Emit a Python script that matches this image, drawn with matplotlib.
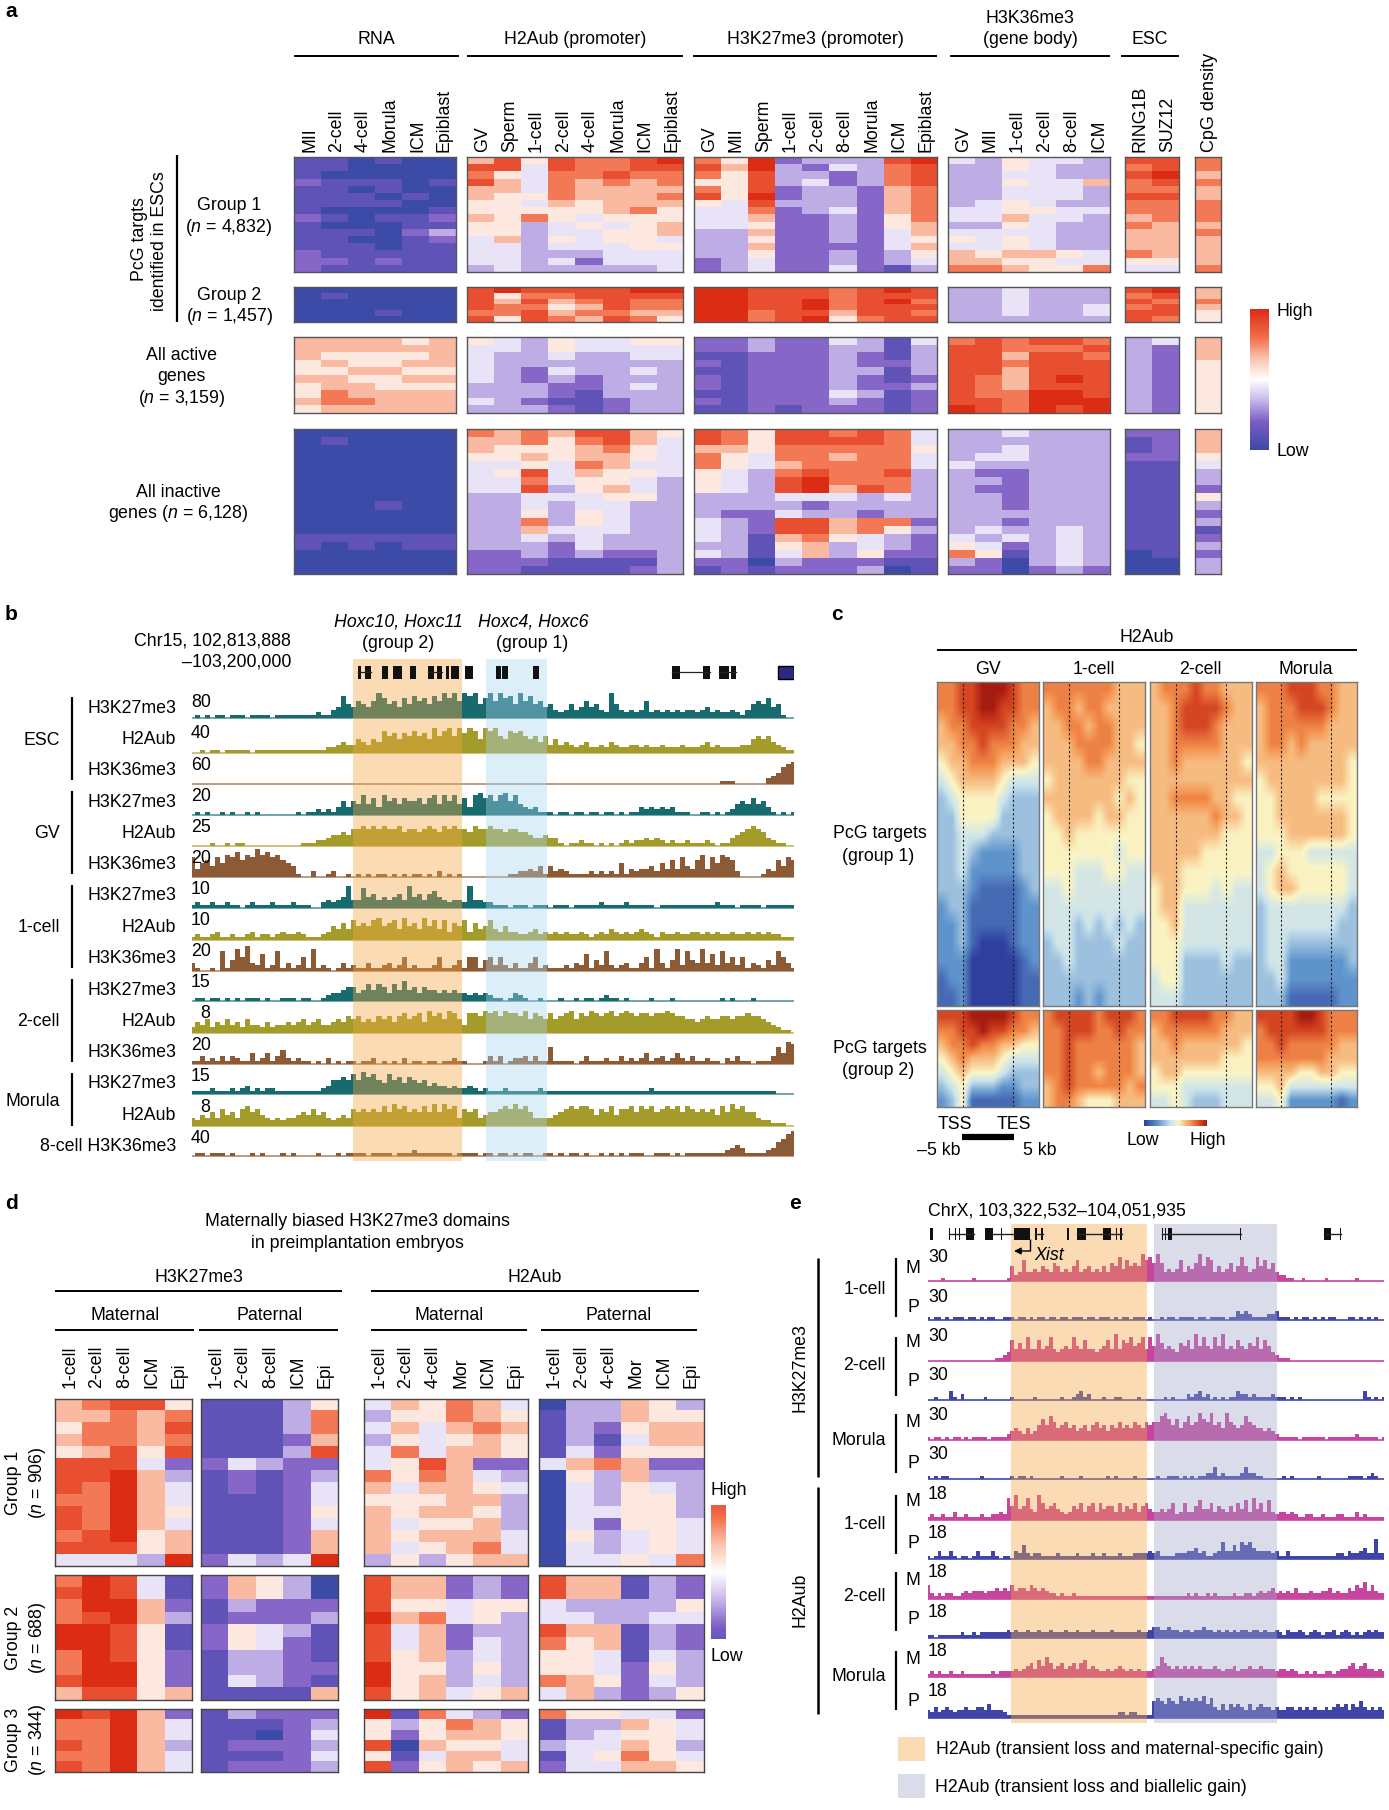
import matplotlib
matplotlib.use('Agg')
import matplotlib.pyplot as plt
import numpy as np
from matplotlib.colors import LinearSegmentedColormap

plt.rcParams['font.family'] = ['Liberation Sans', 'DejaVu Sans']
plt.rcParams['mathtext.fontset'] = 'custom'
plt.rcParams['mathtext.it'] = 'Liberation Sans:italic'
plt.rcParams['mathtext.rm'] = 'Liberation Sans'

W, H = 1389, 1810

# panel a, values on a 0-9 scale, columns RNA(6) H2Aub(8) H3K27me3(9) H3K36me3(6) ESC(2) CpG(1)
a_rna_cols = ['MII', '2-cell', '4-cell', 'Morula', 'ICM', 'Epiblast']
a_h2a_cols = ['GV', 'Sperm', '1-cell', '2-cell', '4-cell', 'Morula', 'ICM', 'Epiblast']
a_k27_cols = ['GV', 'MII', 'Sperm', '1-cell', '2-cell', '8-cell', 'Morula', 'ICM', 'Epiblast']
a_k36_cols = ['GV', 'MII', '1-cell', '2-cell', '8-cell', 'ICM']
a_esc_cols = ['RING1B', 'SUZ12']
a_cpg_cols = ['CpG density']

a_group1 = [
    [1,1,0,1,0,0, 6,8,5,8,7,7,8,9, 7,5,9,2,3,3,3,8,9, 4,3,5,4,4,3, 8,8, 7],
    [1,1,0,0,0,0, 8,8,4,8,7,7,8,8, 8,6,9,3,2,4,3,7,8, 3,3,5,4,3,3, 7,8, 7],
    [1,0,0,0,0,0, 7,5,4,7,7,8,7,7, 7,5,8,3,3,2,3,7,8, 3,3,4,4,3,3, 8,9, 6],
    [2,1,1,1,0,1, 8,6,4,7,6,7,6,7, 5,5,8,3,4,2,3,7,8, 3,3,5,4,4,6, 7,8, 7],
    [1,1,0,1,0,0, 6,6,4,7,6,6,6,6, 7,5,8,2,3,3,2,6,7, 3,3,4,4,4,3, 7,7, 6],
    [1,1,1,0,1,0, 6,5,5,7,6,6,6,7, 8,5,9,2,3,3,2,6,7, 3,3,4,4,4,3, 8,8, 6],
    [1,1,1,1,0,0, 5,5,4,6,5,6,6,6, 5,4,8,3,3,3,2,6,7, 3,4,5,4,3,3, 7,7, 7],
    [1,0,0,0,0,1, 5,5,5,5,5,6,7,5, 4,4,7,2,3,4,2,6,7, 4,4,5,5,4,4, 7,7, 7],
    [2,1,0,1,1,2, 6,5,7,5,4,5,5,5, 4,4,6,2,2,3,2,5,7, 4,4,6,4,4,3, 6,7, 7],
    [1,0,0,0,1,1, 5,5,3,4,5,4,5,6, 4,4,5,2,2,3,2,5,6, 3,3,5,4,3,3, 7,6, 6],
    [1,1,1,0,2,3, 5,5,3,4,4,5,5,6, 3,3,6,2,2,3,2,4,6, 4,4,4,4,3,3, 6,6, 7],
    [1,1,0,0,1,2, 4,6,3,5,4,5,5,4, 3,3,5,2,2,3,2,4,5, 5,4,5,4,3,3, 6,6, 6],
    [1,1,1,0,1,1, 4,4,3,4,4,4,5,5, 3,3,6,2,2,2,2,4,6, 4,4,5,4,3,3, 6,6, 6],
    [2,1,1,1,1,1, 4,4,3,3,3,4,4,4, 3,3,5,2,2,3,2,3,5, 6,5,6,6,5,4, 7,6, 6],
    [2,2,1,2,1,1, 4,4,3,4,2,4,4,4, 2,3,4,2,2,3,2,3,4, 6,6,5,5,4,4, 5,5, 6],
    [2,1,1,1,1,1, 3,4,3,3,3,3,3,4, 2,3,4,2,2,4,2,1,3, 7,7,6,5,5,7, 4,4, 7],
]
a_group2 = [
    [0,0,0,0,0,0, 8,9,8,8,8,8,9,9, 9,9,8,8,8,7,8,9,8, 3,3,4,3,3,3, 8,9, 6],
    [0,1,0,0,0,0, 8,5,7,7,8,8,8,8, 9,9,8,8,8,7,8,8,8, 3,3,4,3,3,3, 7,8, 6],
    [0,0,0,0,0,0, 8,6,8,6,7,8,7,7, 9,9,8,8,9,7,8,9,7, 3,3,4,3,3,3, 8,7, 7],
    [0,0,0,0,0,0, 8,7,7,5,6,8,7,7, 9,9,8,8,9,7,8,8,8, 3,3,4,3,3,4, 7,8, 6],
    [0,0,0,1,0,0, 7,7,8,6,7,7,6,6, 9,9,7,8,8,6,8,8,7, 3,3,4,3,3,4, 8,8, 5],
    [0,0,0,0,0,0, 8,5,8,7,6,8,7,5, 9,9,7,8,9,5,7,8,8, 3,3,3,3,3,3, 8,7, 5],
]
a_active = [
    [6,6,6,6,5,6, 5,4,3,5,4,4,5,5, 2,2,3,2,2,4,3,1,4, 7,8,7,8,8,7, 3,4, 6],
    [6,6,6,6,6,6, 4,4,3,5,4,4,4,4, 2,2,3,2,2,3,3,1,3, 8,8,7,7,7,8, 3,2, 6],
    [6,5,5,5,5,6, 4,3,3,4,3,3,4,4, 1,1,2,2,2,3,2,1,3, 8,8,6,8,8,7, 3,2, 6],
    [5,6,5,5,6,6, 4,3,3,3,3,3,3,3, 2,1,2,2,2,3,2,2,3, 8,8,7,8,8,8, 3,2, 5],
    [5,5,6,6,5,5, 4,3,2,4,3,3,4,3, 1,1,2,2,2,3,3,1,3, 8,8,6,8,8,8, 3,2, 5],
    [6,6,5,5,6,6, 4,3,2,3,2,3,3,3, 2,1,2,2,2,3,2,1,2, 8,7,6,8,9,8, 3,2, 5],
    [5,6,6,5,5,5, 3,3,3,2,2,3,4,3, 2,1,2,2,2,3,2,2,3, 8,7,6,8,8,8, 3,2, 5],
    [5,7,6,6,6,6, 3,3,3,2,1,3,3,3, 1,1,2,2,2,4,3,1,2, 8,7,7,9,9,8, 3,2, 5],
    [6,7,7,6,6,6, 4,3,2,1,1,2,3,3, 2,1,2,2,2,3,2,1,2, 8,8,7,9,9,9, 3,2, 5],
    [5,6,6,6,6,6, 3,3,3,2,1,2,3,3, 1,1,2,1,2,2,2,1,2, 9,8,7,9,8,9, 3,2, 5],
]
a_inactive = [
    [0,0,0,0,0,0, 7,6,7,6,8,8,6,5, 8,7,5,8,8,7,8,7,4, 3,3,4,3,3,3, 2,2, 6],
    [0,1,0,0,0,0, 6,6,7,5,7,8,6,4, 8,7,5,8,8,8,8,7,4, 3,3,3,3,3,3, 1,2, 6],
    [0,0,0,0,0,0, 6,5,5,5,6,7,5,4, 6,6,5,7,7,7,7,7,5, 3,3,4,3,3,3, 1,2, 6],
    [0,0,0,0,0,0, 5,5,6,5,6,6,5,4, 7,5,4,7,7,6,7,7,4, 3,4,4,3,3,3, 2,2, 5],
    [0,0,0,0,0,0, 4,4,5,4,7,6,4,4, 7,5,4,6,7,7,7,7,4, 4,3,3,3,3,3, 1,1, 4],
    [0,0,0,0,0,0, 4,5,8,4,6,5,5,4, 5,4,3,7,8,7,7,8,3, 3,2,2,3,3,3, 1,1, 3],
    [0,0,0,0,0,0, 4,4,7,4,5,5,4,3, 5,4,3,8,9,7,7,7,3, 3,3,2,3,3,3, 1,1, 3],
    [0,0,0,0,0,0, 4,4,8,3,5,6,4,3, 5,4,3,8,9,6,8,7,3, 3,2,2,3,3,3, 1,1, 2],
    [0,0,0,0,0,0, 3,3,4,4,4,5,5,3, 3,3,3,4,4,4,3,4,3, 3,3,2,3,3,3, 1,1, 5],
    [0,0,0,1,0,0, 3,3,4,3,4,4,3,3, 3,3,3,3,2,3,3,3,3, 3,3,2,3,3,3, 1,1, 3],
    [0,0,0,0,0,0, 3,3,5,3,5,4,3,3, 3,2,2,4,3,3,2,3,3, 3,3,3,3,3,3, 1,1, 2],
    [0,0,0,0,0,0, 3,3,7,3,5,4,3,3, 4,3,2,8,8,6,7,7,2, 3,3,2,3,3,3, 1,1, 3],
    [0,0,0,0,0,0, 3,3,6,4,4,4,3,3, 4,3,2,8,8,6,7,5,3, 3,4,3,3,4,3, 1,1, 1],
    [1,1,1,1,1,1, 3,3,4,3,4,3,3,3, 4,3,1,6,7,5,4,3,2, 4,3,4,3,4,3, 1,1, 2],
    [1,0,1,0,1,1, 3,3,3,2,4,3,3,3, 3,3,1,5,6,3,4,3,2, 5,4,2,3,4,3, 1,1, 3],
    [0,0,0,0,0,0, 2,2,3,2,3,2,2,3, 4,3,1,4,6,3,5,2,2, 7,5,1,3,4,3, 0,1, 2],
    [0,0,0,0,0,0, 2,2,2,1,1,1,1,3, 2,2,0,3,2,2,2,1,1, 3,2,0,3,4,3, 0,0, 3],
    [0,0,0,0,0,0, 2,2,1,1,1,1,2,3, 1,2,1,2,2,2,3,0,1, 2,2,0,2,3,2, 0,0, 3],
]

# panel b, track heights on a 0-10 scale along the locus
b_locus_kb = 386
b_scales = ['80', '40', '60', '20', '25', '20', '10', '10', '20', '15', '8', '20', '15', '8', '40']
b_marks = ['H3K27me3', 'H2Aub', 'H3K36me3', 'H3K27me3', 'H2Aub', 'H3K36me3', 'H3K27me3', 'H2Aub',
           'H3K36me3', 'H3K27me3', 'H2Aub', 'H3K36me3', 'H3K27me3', 'H2Aub', '8-cell H3K36me3']
b_esc_k27 = [0,1,0,1,0,1,1,0,1,1, 1,0,1,1,1,1,0,1,1,1, 1,1,1,1,1,2,1,1,3,4, 8,5,4,6,5,4,6,9,7,5, 6,4,7,5,8,6,7,5,8,6, 9,7,9,6,9,8,9,5,7,9, 6,9,7,8,5,9,6,8,5,6, 4,5,3,2,3,5,3,4,6,4, 5,3,2,9,5,3,2,3,2,3, 6,2,3,2,3,2,3,2,3,3, 2,3,4,2,3,2,2,3,2,1, 3,5,6,5,7,4,5,1,0,0]
b_esc_h2a = [0,0,1,0,1,1,0,1,1,1, 1,1,0,1,1,1,1,1,1,1, 1,1,1,1,1,1,1,2,2,3, 4,3,3,5,4,3,5,4,8,6, 7,5,7,6,8,6,7,5,9,6, 8,9,6,9,7,9,8,5,9,8, 9,6,5,8,7,8,6,5,6,4, 6,3,5,3,4,3,2,3,4,2, 2,3,2,4,3,2,2,3,3,2, 3,2,2,3,2,2,2,3,2,2, 2,3,4,2,3,2,2,2,2,3, 3,5,6,5,6,4,3,2,1,1]
b_esc_k36 = [0,0,0,0,0,0,0,0,0,0, 0,0,0,0,0,0,0,0,0,0, 0,0,0,0,0,0,0,0,0,0, 0,0,0,0,0,0,0,0,0,0, 0,0,0,0,0,0,0,0,0,0, 0,0,0,0,0,0,0,0,0,0, 0,0,0,0,0,0,0,0,0,0, 0,0,0,0,0,0,0,0,0,0, 0,0,0,0,0,0,0,0,0,0, 0,0,0,0,0,0,0,0,0,0, 0,0,0,0,0,1,1,1,0,0, 0,0,0,0,2,3,4,6,7,8]
b_gv_k27 = [0,1,0,1,0,0,1,0,1,0, 0,1,0,1,0,0,0,0,0,0, 0,1,0,1,1,2,1,2,1,3, 5,3,5,4,7,4,6,3,7,5, 6,4,6,5,5,6,4,6,7,4, 7,5,7,4,6,3,7,8,6,7, 5,7,8,5,7,4,3,2,3,1, 1,1,0,1,1,0,1,1,0,1, 1,0,1,1,0,1,0,1,1,3, 2,3,2,3,2,3,1,1,1,0, 0,1,1,0,1,0,1,2,4,5, 4,6,4,5,3,1,0,1,0,1]
b_gv_h2a = [0,0,0,0,1,0,0,1,0,1, 1,0,0,0,0,0,0,0,0,0, 0,0,1,1,1,2,2,3,4,4, 5,4,6,6,7,6,7,6,7,6, 6,7,5,6,6,5,6,7,6,5, 7,6,7,6,6,5,7,6,6,7, 6,6,5,6,6,5,5,4,3,3, 4,3,3,1,0,1,1,2,1,1, 0,1,0,1,0,1,2,1,2,2, 3,2,3,2,1,2,1,1,2,1, 1,1,2,1,0,1,1,3,4,5, 6,7,6,5,3,2,1,1,0,0]
b_gv_k36 = [7,3,5,6,4,7,5,8,7,9, 6,8,7,10,8,9,7,8,6,5, 4,1,0,0,2,0,0,1,2,0, 0,1,0,1,0,1,0,1,1,0, 1,0,1,0,1,1,0,1,0,2, 0,1,0,1,0,0,0,0,0,0, 0,0,0,1,1,2,2,3,2,4, 1,4,2,3,2,1,1,1,1,2, 1,2,1,2,1,5,1,3,2,3, 3,4,2,5,3,6,3,7,4,3, 6,8,3,7,5,8,7,6,2,0, 0,0,0,1,3,2,6,4,7,6]
b_1c_k27 = [1,2,1,1,2,1,1,2,1,1, 0,1,2,1,1,1,2,1,1,1, 2,1,1,1,0,0,2,3,2,3, 4,8,3,3,7,4,5,3,4,3, 4,5,3,8,4,5,3,5,6,4, 3,2,3,3,2,8,3,3,2,2, 1,1,1,0,1,1,1,0,1,1, 1,0,1,1,1,0,1,1,1,1, 1,2,1,1,1,1,2,1,1,1, 1,1,0,1,1,1,1,1,1,1, 1,1,1,1,2,1,1,1,0,1, 1,1,1,0,1,1,1,1,1,1]
b_1c_h2a = [1,2,1,1,2,3,1,1,2,1, 1,2,3,1,2,2,1,2,3,2, 2,3,2,1,1,1,2,3,5,4, 6,4,7,5,6,5,7,8,5,6, 7,4,8,5,6,4,8,5,7,4, 7,3,6,5,7,3,6,4,5,7, 4,3,5,3,3,2,2,3,4,2, 3,2,3,2,3,2,2,3,2,1, 2,3,2,4,3,2,3,2,3,4, 3,2,1,3,2,2,3,2,2,3, 3,2,3,2,3,2,2,3,2,2, 3,2,3,2,3,2,2,1,1,1]
b_1c_k36 = [3,1,0,0,1,0,7,1,4,8, 5,9,3,2,6,1,2,7,1,3, 1,2,5,1,8,1,2,1,0,1, 3,1,2,1,1,3,1,1,2,3, 1,2,5,1,2,1,1,1,2,5, 1,1,2,4,1,5,5,1,4,5, 2,5,2,1,3,1,1,3,5,1, 2,1,1,1,2,1,3,2,6,1, 4,2,7,2,1,2,3,1,1,3, 5,1,8,3,1,4,8,2,7,4, 3,8,3,6,2,7,3,5,2,5, 1,3,2,1,4,2,7,5,3,1]
b_2c_k27 = [0,1,1,0,1,1,0,1,0,1, 0,1,1,1,0,1,0,0,1,1, 1,0,1,1,0,0,1,2,3,3, 4,5,5,3,4,6,4,6,5,3, 6,4,7,4,5,3,5,4,4,3, 4,3,4,3,3,2,3,2,3,2, 1,1,0,1,3,2,1,0,0,1, 0,0,0,1,0,0,1,0,1,1, 0,1,2,1,1,0,1,0,0,0, 0,1,0,0,0,1,0,0,0,0, 0,0,0,0,0,1,0,1,0,0, 0,1,0,0,0,0,0,0,0,0]
b_2c_h2a = [2,4,3,5,2,4,3,5,3,4, 2,5,3,3,2,4,2,3,3,4, 3,4,5,3,4,5,3,3,4,5, 4,6,5,6,4,5,4,6,5,6, 4,6,7,5,6,7,4,8,6,7, 5,8,7,5,3,7,7,6,8,7, 8,6,8,7,7,6,8,5,7,6, 5,7,5,6,7,8,5,7,6,8, 7,6,7,8,6,7,8,7,6,7, 7,6,7,7,8,7,6,6,5,5, 4,5,6,5,5,6,6,5,6,6, 7,6,6,5,4,3,2,1,1,0]
b_2c_k36 = [1,1,3,1,2,1,3,1,3,2, 1,1,4,1,2,4,1,3,5,2, 1,2,1,1,0,1,0,2,0,1, 0,1,1,0,1,1,2,0,1,0, 1,0,2,0,1,1,0,1,1,0, 1,1,2,1,1,0,0,0,1,3, 1,3,0,1,2,2,3,1,3,1, 1,6,1,1,1,1,0,1,3,1, 1,1,2,1,1,3,1,2,1,2, 4,1,2,3,1,2,4,2,1,3, 1,1,2,1,1,0,2,1,3,1, 1,0,1,1,1,3,6,4,8,7]
b_mo_k27 = [1,1,1,1,2,1,1,1,2,1, 2,3,1,2,1,2,2,1,1,1, 1,1,1,1,1,1,2,3,5,5, 6,5,7,5,8,6,7,5,4,7, 5,6,4,6,5,4,5,3,4,3, 3,2,3,2,2,3,2,1,2,1, 1,1,2,1,1,1,1,1,1,2, 1,1,1,1,1,1,1,1,1,1, 1,1,1,1,1,1,1,1,1,1, 1,2,1,1,1,1,1,1,1,1, 1,1,1,1,1,1,1,1,1,1, 1,1,1,1,1,1,0,0,0,0]
b_mo_h2a = [3,2,4,3,5,3,6,4,5,3, 6,7,5,6,4,3,2,3,2,3, 3,4,5,4,6,4,5,3,2,3, 4,3,6,5,6,5,6,5,7,5, 8,6,7,5,6,5,7,5,8,5, 8,6,7,3,6,5,6,3,4,5, 5,6,7,6,8,6,7,5,3,3, 3,3,4,5,6,7,6,7,7,6, 4,6,5,7,4,6,6,7,5,7, 6,7,5,6,7,6,7,5,7,6, 5,6,5,6,4,7,5,8,6,7, 5,5,3,2,2,1,1,1,0,0]
b_8c_k36 = [0,1,1,0,1,1,1,0,1,0, 0,0,1,0,1,0,0,0,1,0, 1,0,0,0,0,1,0,0,0,1, 0,1,1,1,1,0,1,1,1,1, 0,1,1,1,2,1,1,1,1,1, 1,1,0,1,1,1,1,0,1,1, 0,1,1,0,1,0,1,1,0,0, 1,1,0,1,0,1,1,0,1,0, 0,1,0,1,0,1,0,1,1,1, 0,0,1,1,1,0,1,0,1,1, 1,1,1,1,1,1,2,3,4,3, 1,1,1,1,2,3,5,6,8,9]
b_tracks = [b_esc_k27, b_esc_h2a, b_esc_k36, b_gv_k27, b_gv_h2a, b_gv_k36, b_1c_k27, b_1c_h2a, b_1c_k36,
            b_2c_k27, b_2c_h2a, b_2c_k36, b_mo_k27, b_mo_h2a, b_8c_k36]
b_exons = [(106.7,108.4), (111,115), (121.8,125.5), (129,134.6), (140,143.7), (151.4,155.4), (157,160.4),
           (163,164.8), (166,171.5), (175.5,180.6), (195,198.4), (199,203), (219,223), (307.8,313),
           (328,332.6), (338,344.4), (346,349.4)]
b_introns = [(106.7,115), (151.4,160.4), (307.8,332.6), (338,349.4)]
b_orange_kb = (103, 173.5)
b_blue_kb = (188.6, 227.6)

# panel c, 10 bins per row, 0-9 scale
c_gv_top = [
    [7,7,8,8,9,9,9,8,7,7], [7,7,8,8,9,9,8,8,7,7], [6,7,7,8,8,8,8,7,7,6], [6,6,7,7,8,7,7,7,6,6],
    [5,6,6,7,7,7,6,6,6,5], [4,5,6,6,6,6,5,4,4,4], [3,4,5,5,5,5,4,3,3,3], [3,3,5,5,5,5,3,3,3,3],
    [3,3,4,4,4,3,3,3,3,3], [3,3,4,3,2,2,2,2,3,3], [3,3,4,2,2,2,2,2,3,3], [3,3,3,2,1,1,1,1,2,3],
    [2,3,3,1,1,1,1,1,2,2], [2,2,3,1,1,1,1,1,2,2], [2,2,3,1,0,0,0,1,2,2], [2,2,2,0,0,0,0,0,1,2],
    [1,2,2,0,0,0,0,0,1,1], [1,1,2,0,0,0,0,0,1,1],
]
c_1c_top = [
    [7,7,7,7,7,7,7,6,6,6], [6,7,7,6,7,7,6,6,6,6], [6,6,7,7,6,7,7,6,6,6], [6,6,6,7,7,7,7,6,6,5],
    [6,6,6,6,7,7,6,6,6,6], [5,6,6,6,6,6,6,6,5,5], [6,6,6,6,6,6,6,5,6,5], [5,6,6,6,6,5,6,6,5,5],
    [5,5,6,5,5,5,5,5,5,5], [5,5,5,5,5,5,5,4,5,5], [5,5,5,4,4,4,5,5,4,4], [4,4,5,4,4,4,4,4,4,4],
    [4,4,4,4,4,4,4,4,4,4], [4,4,4,3,4,3,4,3,4,3], [3,4,4,3,3,3,3,4,3,3], [3,3,4,3,3,3,3,3,3,3],
    [3,3,3,3,3,3,3,3,3,3], [3,3,3,2,3,2,3,3,3,3],
]
c_2c_top = [
    [6,7,7,7,8,7,7,6,6,6], [6,6,7,8,8,8,8,7,6,6], [6,6,7,8,8,8,7,6,6,6], [6,6,7,7,7,7,7,6,6,6],
    [6,6,7,6,6,6,6,6,6,5], [6,6,6,6,6,6,6,6,6,6], [6,6,7,7,7,7,6,6,5,5], [6,6,6,6,6,6,7,6,6,5],
    [6,6,6,6,6,6,6,5,5,5], [6,6,6,6,6,5,5,5,5,5], [6,6,6,5,5,5,5,5,5,5], [5,6,6,5,5,5,4,5,4,4],
    [5,6,6,4,4,4,4,4,4,4], [5,5,6,4,4,4,4,4,4,4], [5,5,5,4,4,4,4,4,4,4], [5,5,5,3,3,3,3,4,3,3],
    [4,5,5,3,3,3,3,3,3,3], [4,4,4,3,3,3,3,3,3,3],
]
c_mo_top = [
    [7,7,7,8,8,8,7,7,6,6], [6,7,7,7,8,8,8,7,6,6], [6,7,7,7,7,7,7,6,6,6], [6,7,7,6,7,6,6,6,6,6],
    [6,6,6,6,6,6,6,6,6,5], [5,6,6,6,6,6,6,6,6,5], [5,5,6,6,6,6,5,5,5,5], [5,5,6,6,6,6,6,6,6,5],
    [5,5,5,6,6,6,6,6,6,5], [4,4,5,5,5,4,4,4,4,4], [4,5,6,5,5,5,5,5,5,4], [4,5,6,6,5,5,5,5,5,4],
    [3,4,4,4,4,4,4,4,4,3], [3,4,4,4,4,4,4,4,3,3], [3,4,4,3,3,3,3,3,3,3], [3,4,4,2,2,2,2,2,2,3],
    [3,3,4,2,2,2,2,2,2,2], [3,3,3,1,1,1,1,1,2,2],
]
c_gv_bottom = [
    [8,8,8,9,9,9,9,8,7,7], [7,7,8,8,9,8,8,7,7,6], [6,7,7,8,7,7,6,6,5,5], [5,6,7,6,6,6,5,4,4,4],
    [4,5,6,5,5,5,4,3,3,3], [3,4,5,3,3,3,2,2,3,3], [2,3,5,1,1,1,1,1,2,2],
]
c_1c_bottom = [
    [7,8,8,8,8,7,8,8,8,7], [7,7,8,8,8,7,7,8,7,7], [7,7,8,7,7,7,7,7,7,6], [7,7,8,7,7,7,7,7,7,6],
    [7,7,8,7,7,6,7,7,7,6], [6,7,8,7,7,7,7,7,6,7], [6,7,7,6,5,5,5,6,6,6],
]
c_2c_bottom = [
    [7,7,8,8,8,8,7,7,6,6], [6,7,7,7,7,7,7,6,6,6], [6,6,7,6,6,6,6,6,6,5], [6,6,6,6,6,6,6,5,5,5],
    [5,6,6,5,5,5,5,5,5,5], [5,5,5,4,4,4,4,4,4,4], [4,4,5,4,3,3,3,4,4,4],
]
c_mo_bottom = [
    [8,8,8,8,9,9,8,7,7,7], [7,8,8,8,8,8,8,7,7,7], [7,7,8,7,7,7,7,7,6,6], [7,7,7,7,7,7,7,6,6,6],
    [6,6,6,6,5,5,6,6,5,5], [5,5,6,4,4,4,4,4,4,4], [4,4,5,2,2,2,2,2,1,2],
]
c_stages = ['GV', '1-cell', '2-cell', 'Morula']
c_tss_tes = [0.25, 0.745]

# panel d, columns K27 maternal(5) K27 paternal(5) H2Aub maternal(6) H2Aub paternal(6)
d_k27_cols = ['1-cell', '2-cell', '8-cell', 'ICM', 'Epi']
d_h2a_cols = ['1-cell', '2-cell', '4-cell', 'Mor', 'ICM', 'Epi']
d_group1 = [
    [6,7,8,8,5, 1,1,1,3,5, 4,6,5,7,6,4, 0,3,3,6,5,3],
    [6,6,7,6,7, 1,1,1,3,7, 3,5,5,7,6,5, 1,3,3,6,5,5],
    [5,7,7,6,8, 1,1,1,3,7, 4,6,4,6,7,6, 1,3,2,5,6,6],
    [6,7,7,6,7, 1,1,1,2,6, 3,5,4,5,6,5, 1,3,1,4,6,6],
    [5,6,8,5,8, 1,1,1,3,8, 4,7,4,6,6,5, 1,4,2,5,5,5],
    [8,8,8,4,2, 2,4,3,2,2, 4,5,8,6,2,2, 4,6,7,6,2,2],
    [8,8,9,6,3, 1,2,1,2,3, 7,5,7,6,4,3, 0,5,3,6,3,3],
    [8,7,9,6,4, 1,2,1,2,4, 6,4,6,6,5,4, 0,4,3,5,4,3],
    [7,7,9,6,4, 1,1,1,2,4, 5,5,5,6,6,3, 0,4,3,5,5,3],
    [8,7,9,6,5, 1,1,1,2,5, 6,5,6,6,5,3, 0,4,4,5,5,3],
    [8,7,9,6,4, 1,1,1,2,4, 6,4,5,5,6,3, 0,4,2,5,5,4],
    [7,8,9,5,6, 1,1,1,2,6, 6,5,6,6,6,4, 0,5,3,4,5,4],
    [8,8,8,5,6, 1,1,1,2,6, 6,4,5,6,7,4, 0,4,3,4,5,4],
    [4,4,4,3,9, 2,4,3,4,9, 3,5,3,5,6,6, 0,4,4,5,4,7],
]
d_group2 = [
    [7,9,8,4,1, 2,6,5,3,0, 8,6,6,2,3,2, 8,6,6,1,3,2],
    [8,9,8,4,1, 2,6,5,3,0, 8,6,6,2,3,2, 8,6,6,1,3,2],
    [7,9,9,6,2, 1,3,2,2,2, 8,5,5,4,5,5, 4,3,3,3,3,5],
    [7,8,9,6,3, 1,2,2,2,3, 9,6,7,4,5,3, 4,4,3,3,4,4],
    [9,9,8,5,1, 2,5,4,3,1, 8,4,6,2,3,3, 8,6,6,1,3,2],
    [9,9,8,5,1, 2,5,4,2,1, 8,4,6,2,4,3, 7,5,6,1,3,2],
    [7,9,8,5,2, 1,3,3,2,1, 8,5,6,3,4,3, 5,5,4,1,4,3],
    [7,9,9,5,2, 1,3,3,2,2, 9,5,5,3,5,3, 5,5,4,2,5,3],
    [8,9,9,5,2, 1,4,3,2,1, 9,5,6,3,4,3, 7,6,5,2,4,3],
    [6,8,8,5,6, 1,1,1,1,6, 8,5,6,4,5,6, 4,6,3,2,3,5],
]
d_group3 = [
    [9,8,9,6,2, 1,3,2,2,2, 9,1,7,4,3,2, 7,5,5,4,4,2],
    [7,7,9,6,4, 1,1,1,2,3, 5,3,5,7,6,5, 1,3,3,6,5,4],
    [7,7,9,6,4, 1,1,0,2,4, 5,2,5,6,6,5, 1,3,4,5,5,4],
    [8,7,9,6,3, 1,2,2,2,3, 8,0,6,5,5,4, 3,4,4,6,5,3],
    [7,7,9,6,4, 1,1,1,2,4, 5,1,4,6,6,4, 1,4,5,7,5,4],
    [8,7,9,6,4, 1,2,2,2,3, 8,2,5,6,5,6, 2,4,4,6,6,5],
]

# panel e
e_locus_kb = 729.4
e_scales = ['30'] * 6 + ['18'] * 6
e_k27_1c_m = [0,0,0,0,1,0,0,0,0,0, 0,0,1,0,0,0,0,0,0,0, 0,1,5,2,3,7,3,3,4,3, 5,4,3,6,5,3,4,3,5,7, 3,4,5,3,4,3,5,3,6,5, 8,4,7,5,6,5,9,7,8,6, 9,6,3,4,3,4,7,3,5,4, 6,9,5,8,7,3,5,3,4,6, 3,5,8,5,3,4,8,5,7,4, 6,3,2,2,1,1,0,0,1,0, 0,0,0,0,1,0,0,0,0,0, 0,0,1,0,0,0,0,0,0,0]
e_k27_1c_p = [1,0,1,1,0,1,0,1,1,1, 0,1,1,0,1,0,1,1,0,0, 1,1,1,0,1,1,0,1,0,1, 1,0,1,1,0,1,1,0,1,1, 1,0,1,1,0,1,1,1,0,1, 0,1,1,0,1,1,1,0,1,0, 0,1,0,1,1,0,1,1,1,1, 0,1,1,0,1,1,1,1,0,1, 1,3,2,3,2,1,1,1,1,2, 2,3,1,1,1,0,1,0,1,1, 0,1,0,1,0,1,1,0,0,0, 1,1,0,1,0,1,0,1,0,0]
e_k27_2c_m = [0,0,0,0,0,0,0,0,0,0, 0,0,0,0,0,0,0,0,1,1, 2,3,7,4,6,4,8,4,4,7, 4,5,8,4,3,4,5,4,8,5, 4,7,4,4,3,4,5,7,4,9, 4,7,6,8,5,6,8,4,8,5, 9,6,4,5,4,3,6,5,7,4, 9,5,8,5,4,8,5,9,4,5, 4,7,5,4,6,5,8,4,7,5, 3,2,1,1,1,0,0,0,0,0, 0,0,0,0,0,0,0,0,0,0, 0,0,0,0,0,0,0,0,0,0]
e_k27_2c_p = [0,0,1,0,0,0,3,1,0,2, 0,0,0,0,0,1,0,0,0,0, 0,0,1,0,0,0,0,0,1,0, 0,0,0,0,0,1,0,0,1,2, 3,1,2,0,0,0,1,0,0,1, 1,0,0,0,0,1,0,0,0,0, 0,0,1,0,1,0,0,0,2,1, 2,3,1,2,0,1,0,1,0,1, 1,3,2,2,1,2,1,1,1,1, 2,1,1,1,0,1,0,1,0,0, 0,0,0,0,0,0,0,0,0,0, 0,0,0,0,3,1,0,1,0,1]
e_k27_mo_m = [1,0,1,1,0,1,0,1,1,0, 1,0,1,1,1,1,0,1,1,1, 1,2,3,4,3,2,4,2,3,5, 7,5,8,6,4,5,6,4,5,3, 4,5,3,5,6,4,5,3,5,4, 6,4,5,4,6,5,4,6,5,6, 6,8,9,7,5,7,4,6,8,5, 6,9,7,6,9,5,6,4,9,6, 5,4,5,8,6,5,4,4,3,4, 3,2,1,1,1,1,1,0,1,1, 1,1,1,1,0,1,1,1,1,1, 1,1,2,1,1,1,1,1,0,1]
e_k27_mo_p = [1,0,1,0,1,1,0,0,0,0, 0,0,0,0,1,0,0,0,0,0, 0,0,1,0,1,1,0,1,0,0, 0,0,0,0,0,1,0,0,0,0, 1,0,0,0,0,0,0,1,0,1, 0,0,0,0,1,0,0,0,0,0, 1,0,0,1,1,1,0,1,0,1, 0,1,1,2,2,4,1,2,1,1, 1,1,2,4,2,2,1,1,0,0, 0,0,0,1,0,1,0,0,0,0, 0,0,1,0,0,0,0,0,0,0, 1,1,1,1,0,1,2,1,0,0]
e_h2a_1c_m = [1,2,1,1,2,1,1,3,1,1, 2,1,1,1,2,1,1,2,2,3, 2,8,5,9,4,5,8,4,3,9, 6,4,5,6,4,3,2,3,5,4, 6,3,5,6,3,6,4,5,5,3, 6,3,5,4,6,3,5,6,4,3, 3,4,3,4,6,2,3,6,3,3, 5,7,4,4,6,3,5,4,3,5, 3,6,4,7,3,8,4,6,3,7, 3,2,3,3,2,3,2,1,1,2, 2,1,1,2,1,1,1,2,2,1, 1,1,3,1,2,1,1,1,1,1]
e_h2a_1c_p = [1,0,1,3,1,1,3,1,0,1, 1,0,1,3,1,1,1,3,1,0, 1,1,0,3,2,5,2,1,2,2, 1,1,1,1,2,1,1,1,1,2, 1,1,1,2,1,1,2,1,1,1, 2,1,1,1,2,2,2,2,3,2, 3,1,1,1,1,2,2,2,3,3, 4,2,3,1,1,2,3,6,3,3, 5,3,6,5,6,4,3,3,3,3, 2,3,1,1,3,1,1,1,1,1, 1,1,1,1,1,1,1,2,2,1, 3,2,2,3,4,2,2,7,2,2]
e_h2a_2c_m = [5,2,1,2,1,2,2,1,1,2, 3,2,3,3,3,2,3,3,4,3, 4,3,5,3,4,4,3,5,4,3, 4,3,2,2,1,2,1,1,2,1, 1,1,1,1,1,1,1,1,1,1, 1,1,1,1,1,1,1,1,1,1, 1,1,1,1,1,1,1,1,2,1, 2,1,1,2,1,2,1,1,1,1, 2,1,1,2,2,1,2,3,2,3, 4,2,3,2,3,2,4,2,2,2, 3,2,2,3,3,4,2,3,2,2, 4,3,5,4,6,3,5,3,2,2]
e_h2a_2c_p = [1,1,0,1,1,1,1,1,1,2, 1,1,2,1,2,2,2,2,2,2, 2,3,2,3,2,2,3,2,2,3, 2,2,3,2,2,2,3,2,2,3, 2,2,2,3,2,2,2,2,3,2, 2,2,2,2,2,3,2,2,3,4, 4,3,3,4,3,3,2,3,3,2, 3,3,4,3,3,2,3,2,3,2, 3,2,3,3,2,3,3,2,3,2, 2,3,2,1,3,2,2,3,2,1, 2,3,2,1,2,2,3,1,2,3, 2,1,2,1,2,3,2,3,2,2]
e_h2a_mo_m = [1,2,1,2,1,1,2,1,1,2, 1,1,1,1,1,1,1,2,1,2, 2,2,2,3,2,3,4,5,3,6, 4,7,5,3,4,5,3,4,5,3, 5,6,3,4,3,2,2,3,2,3, 4,3,2,3,2,3,2,2,2,3, 4,7,5,4,3,4,3,4,3,4, 3,4,3,3,3,4,3,2,3,3, 4,2,3,3,4,3,3,4,3,3, 3,2,3,3,2,3,2,1,1,2, 1,2,1,1,2,2,1,2,3,3, 4,5,3,4,5,3,3,2,3,2]
e_h2a_mo_p = [3,2,4,2,3,4,3,2,3,3, 4,3,3,4,4,3,5,3,3,3, 2,1,1,1,1,1,1,1,1,1, 1,1,1,1,1,1,1,1,1,1, 1,1,1,1,1,1,1,1,1,1, 2,2,1,2,2,1,1,1,1,6, 7,6,5,7,6,5,8,6,7,6, 7,6,8,5,7,4,3,5,3,5, 4,5,4,3,5,3,4,5,4,4, 3,4,3,3,4,4,3,4,3,4, 3,4,3,3,4,3,4,5,4,5, 3,5,4,6,4,3,4,3,4,3]
e_tracks = [e_k27_1c_m, e_k27_1c_p, e_k27_2c_m, e_k27_2c_p, e_k27_mo_m, e_k27_mo_p,
            e_h2a_1c_m, e_h2a_1c_p, e_h2a_2c_m, e_h2a_2c_p, e_h2a_mo_m, e_h2a_mo_p]
e_exons = [(3.8,8.2), (32.9,34.8), (43.6,45.5), (50,51.8), (60.7,74), (91,103.6), (116,117.6), (125.8,127),
           (137,163.7), (171,175), (180,184), (222,225), (238,252), (280.6,293), (301.5,302.7), (307.8,309.7),
           (373.5,376), (378.6,381), (383.6,391), (498.6,500), (633,645), (658.6,660)]
e_introns = [(32.9,74), (103.6,137), (171,184), (238,309.7), (373.5,500), (633,660)]
e_orange_kb = (132, 350)
e_grey_kb = (362, 559)

# colours
cmap_main = LinearSegmentedColormap.from_list('main', [
    (0.0, '#3c4aa8'), (0.2, '#7d5cc4'), (0.36, '#cbbcec'), (0.5, '#ffffff'),
    (0.65, '#fac4ac'), (0.8, '#f26d4a'), (1.0, '#dc2c14')])
cmap_c = LinearSegmentedColormap.from_list('c', [
    (0.0, '#2e3f9e'), (0.22, '#5f94cc'), (0.42, '#cbe3ec'), (0.55, '#fbf5c5'),
    (0.75, '#f4924f'), (0.9, '#d2401f'), (1.0, '#a51c10')])
TEAL, OLIVE, BROWN = '#176a6e', '#a39c2b', '#8c5a34'
MAGENTA, NAVY = '#c7449f', '#3f45a8'
ORANGE, BLUE, GREY = '#f5a742', '#a8d5ef', '#a3a9c8'

fig = plt.figure(figsize=(W / 100, H / 100), dpi=100)


def px_axes(x0, y0, x1, y1):
    return fig.add_axes([x0 / W, 1 - y1 / H, (x1 - x0) / W, (y1 - y0) / H])


# overlay in picture pixels, for the labels and rules
ov = px_axes(0, 0, W, H)
ov.set_xlim(0, W)
ov.set_ylim(H, 0)
ov.axis('off')
ov.set_zorder(5)


def label(x, y, s, size=12.8, ha='center', va='center', **kw):
    # the rotated ones are centred by their own box, only the flat ones sit a little high
    dy = 0 if kw.get('rotation') else 1.5
    ov.text(x, y + dy, s, fontsize=size, ha=ha, va=va, **kw)


def rule(x0, x1, y0, y1=None, lw=1.4, color='black'):
    ov.plot([x0, x1], [y0, y0 if y1 is None else y1], color=color, lw=lw, solid_capstyle='butt')


def heat(box, values, cmap=cmap_main, interp='nearest', vmin=0, vmax=9, edge='#555555'):
    ax = px_axes(*box)
    ax.imshow(values, aspect='auto', cmap=cmap, vmin=vmin, vmax=vmax, interpolation=interp,
              extent=[0, 1, 1, 0])
    ax.set_xticks([])
    ax.set_yticks([])
    for s in ax.spines.values():
        s.set_linewidth(1.0)
        s.set_color(edge)
    return ax


def col_labels(x0, x1, names, y, size=12.8, shift=3):
    w = (x1 - x0) / len(names)
    for i, n in enumerate(names):
        label(x0 + w * (i + 0.5) + shift, y, n, size=size, rotation=90, va='bottom')


def colorbar(box, cmap, vmin=0.0, vmax=1.0, horizontal=False):
    ax = px_axes(*box)
    grad = np.linspace(vmax, vmin, 256).reshape(-1, 1)
    if horizontal:
        grad = grad.T[:, ::-1]
    ax.imshow(grad, aspect='auto', cmap=cmap, vmin=0, vmax=1)
    ax.axis('off')


# ---- panel a
label(11, 10, 'a', size=15, fontweight='bold')
a_sections = [
    (294, 456, 0, 6, a_rna_cols), (467, 683, 6, 14, a_h2a_cols), (694, 937, 14, 23, a_k27_cols),
    (948, 1110, 23, 29, a_k36_cols), (1125, 1179, 29, 31, a_esc_cols), (1195, 1221, 31, 32, a_cpg_cols)]
a_rows = [(157, 272, a_group1), (287, 322, a_group2), (337, 413, a_active), (429, 574, a_inactive)]
for x0, x1, c0, c1, names in a_sections:
    col_labels(x0, x1, names, 152, size=13 if names is a_cpg_cols else 12.8, shift=2)
    for y0, y1, mat in a_rows:
        heat((x0, y0, x1, y1), np.array(mat)[:, c0:c1])
rule(294, 459, 56)
rule(467, 683, 56)
rule(693, 937, 56)
rule(950, 1110, 56)
rule(1121, 1179, 56)
label(376, 38, 'RNA')
label(575, 38, 'H2Aub (promoter)')
label(815, 38, 'H3K27me3 (promoter)')
label(1030, 17, 'H3K36me3')
label(1030, 38, '(gene body)')
label(1150, 38, 'ESC')
rule(177, 177, 155, 322, lw=1.6)
label(139, 239, 'PcG targts', rotation=90)
label(160, 241, 'identified in ESCs', rotation=90)
label(229, 204, 'Group 1')
label(229, 226, r'($\mathit{n}$ = 4,832)')
label(229, 294, 'Group 2')
label(229, 315, r'($\mathit{n}$ = 1,457)')
label(181, 354, 'All active')
label(181, 375, 'genes')
label(181, 397, r'($\mathit{n}$ = 3,159)')
label(178, 491, 'All inactive')
label(178, 512, r'genes ($\mathit{n}$ = 6,128)')
colorbar((1250, 309, 1269, 450), cmap_main)
label(1276, 310, 'High', ha='left')
label(1276, 450, 'Low', ha='left')

# ---- panel b
label(11, 613, 'b', size=15, fontweight='bold')
label(291, 639, 'Chr15, 102,813,888', ha='right')
label(291, 660, '\u2013103,200,000', ha='right')
label(398, 620, 'Hoxc10, Hoxc11', fontstyle='italic')
label(398, 642, '(group 2)')
label(533, 620, 'Hoxc4, Hoxc6', fontstyle='italic')
label(532, 642, '(group 1)')

b_base = [718, 753, 784, 815, 846, 877, 908, 940, 971, 1001, 1033, 1064, 1094, 1126, 1156]
b_colors = [TEAL, OLIVE, BROWN] * 4 + [TEAL, OLIVE, BROWN]
b_label_y = [707, 738, 769, 801, 832, 863, 894, 926, 957, 989, 1020, 1051, 1082, 1114, 1145]
b_scale_y = [701, 732, 764, 795, 826, 857, 888, 919, 950, 981, 1012, 1044, 1075, 1106, 1137]
bx = px_axes(192, 655, 793.5, 1165)
bx.set_xlim(0, b_locus_kb)
bx.set_ylim(1165, 655)
bx.axis('off')
for base, col, vals in zip(b_base, b_colors, b_tracks):
    xs = np.linspace(0, b_locus_kb, len(vals))
    bx.fill_between(xs, base, base - np.array(vals) * 2.8, color=col, lw=0, step='mid')
    bx.plot([0, b_locus_kb], [base, base], color=col, lw=1.2, alpha=0.7)
bx.add_patch(plt.Rectangle((b_orange_kb[0], 659), b_orange_kb[1] - b_orange_kb[0], 502, color=ORANGE, alpha=0.4, lw=0, zorder=4))
bx.add_patch(plt.Rectangle((b_blue_kb[0], 659), b_blue_kb[1] - b_blue_kb[0], 502, color=BLUE, alpha=0.4, lw=0, zorder=4))
for s, e in b_exons:
    bx.add_patch(plt.Rectangle((s, 666), e - s, 13, color='#111111', lw=0, zorder=5))
bx.add_patch(plt.Rectangle((376, 666), 10, 13, color='#2c2a80', ec='black', lw=1, zorder=5))
for s, e in b_introns:
    bx.plot([s, e], [672.5, 672.5], color='#222222', lw=0.9, zorder=5)
for y, m in zip(b_label_y, b_marks):
    label(176, y, m, ha='right')
for y, s in zip(b_scale_y, b_scales):
    label(200 if s == '8' else 191, y, s, ha='left')
for y0, y1, ly, name in [(697, 780, 739, 'ESC'), (791, 874, 832, 'GV'), (885, 968, 926, '1-cell'),
                         (979, 1062, 1020, '2-cell'), (1073, 1126, 1100, 'Morula')]:
    rule(72, 72, y0, y1, lw=1.6)
    label(60, ly, name, ha='right')

# ---- panel c
label(837, 613, 'c', size=15, fontweight='bold')
c_x = [(937, 1039), (1043, 1145), (1150, 1252), (1256, 1357)]
c_centers = [988, 1094, 1200, 1306]
c_top = [c_gv_top, c_1c_top, c_2c_top, c_mo_top]
c_bottom = [c_gv_bottom, c_1c_bottom, c_2c_bottom, c_mo_bottom]
for (x0, x1), top, bottom, cx, st in zip(c_x, c_top, c_bottom, c_centers, c_stages):
    for y0, y1, mat in [(682, 1006, top), (1010, 1107, bottom)]:
        ax = heat((x0, y0, x1, y1), mat, cmap=cmap_c, interp='bilinear', edge='#777777')
        for t in c_tss_tes:
            ax.axvline(t, color='#222222', lw=0.8, ls=(0, (2, 2)))
    label(cx, 668, st)
label(1147, 636, 'H2Aub')
rule(937, 1357, 650)
label(880, 832, 'PcG targets')
label(878, 855, '(group 1)')
label(880, 1047, 'PcG targets')
label(878, 1069, '(group 2)')
label(955, 1123, 'TSS')
label(1014, 1123, 'TES')
rule(962, 1014, 1137, lw=4.5)
label(939, 1149, '\u20135 kb')
label(1040, 1149, '5 kb')
colorbar((1144, 1120, 1207, 1126), cmap_c, horizontal=True)
label(1143, 1139, 'Low')
label(1208, 1139, 'High')

# ---- panel d
label(11, 1202, 'd', size=15, fontweight='bold')
label(357, 1220, 'Maternally biased H3K27me3 domains')
label(357, 1242, 'in preimplantation embryos')
label(199, 1276, 'H3K27me3')
rule(55, 342, 1291)
label(535, 1276, 'H2Aub')
rule(371, 699, 1291)
for cx, x0, x1, name in [(125, 55, 194, 'Maternal'), (270, 199, 338, 'Paternal'),
                         (449, 371, 527, 'Maternal'), (619, 541, 697, 'Paternal')]:
    label(cx, 1314, name)
    rule(x0, x1, 1330)
d_sections = [(55, 192, 0, 5, d_k27_cols), (201, 338, 5, 10, d_k27_cols),
              (364, 528, 10, 16, d_h2a_cols), (539, 704, 16, 22, d_h2a_cols)]
d_rows = [(1399, 1566, d_group1), (1575, 1700, d_group2), (1709, 1772, d_group3)]
for x0, x1, c0, c1, names in d_sections:
    col_labels(x0, x1, names, 1388, shift=1)
    for y0, y1, mat in d_rows:
        heat((x0, y0, x1, y1), np.array(mat)[:, c0:c1], edge='#444444')
for y, g, n in [(1483, 'Group 1', r'($\mathit{n}$ = 906)'), (1638, 'Group 2', r'($\mathit{n}$ = 688)'),
                (1740, 'Group 3', r'($\mathit{n}$ = 344)')]:
    label(14, y, g, rotation=90)
    label(37, y, n, rotation=90)
colorbar((711, 1505, 726, 1639), cmap_main, vmin=0.14, vmax=0.86)
label(711, 1489, 'High', ha='left')
label(711, 1655, 'Low', ha='left')

# ---- panel e
label(795, 1202, 'e', size=15, fontweight='bold')
label(928, 1209, 'ChrX, 103,322,532\u2013104,051,935', ha='left')
e_base = [1281, 1320.5, 1361, 1400, 1440, 1479, 1520, 1559, 1599, 1638, 1677, 1718]
e_scale_y = [1256, 1296, 1335, 1374, 1414, 1453, 1493, 1532, 1571, 1611, 1650, 1690]
e_ml_y = [1267, 1306, 1341, 1380, 1421, 1462, 1500, 1542, 1579, 1618, 1658, 1700]
ex = px_axes(928, 1220, 1384, 1727)
ex.set_xlim(0, e_locus_kb)
ex.set_ylim(1727, 1220)
ex.axis('off')
for i, (base, vals) in enumerate(zip(e_base, e_tracks)):
    col = MAGENTA if i % 2 == 0 else NAVY
    xs = np.linspace(0, e_locus_kb, len(vals))
    ex.fill_between(xs, base, base - np.array(vals) * (3.0 if i < 6 else 2.8), color=col, lw=0, step='mid')
    ex.plot([0, e_locus_kb], [base, base], color=col, lw=1.2)
    label(928, e_scale_y[i], e_scales[i], ha='left')
    label(913, e_ml_y[i], 'M' if i % 2 == 0 else 'P')
ex.add_patch(plt.Rectangle((e_orange_kb[0], 1224), e_orange_kb[1] - e_orange_kb[0], 499, color=ORANGE, alpha=0.4, lw=0, zorder=4))
ex.add_patch(plt.Rectangle((e_grey_kb[0], 1224), e_grey_kb[1] - e_grey_kb[0], 499, color=GREY, alpha=0.4, lw=0, zorder=4))
for s, e in e_exons:
    ex.add_patch(plt.Rectangle((s, 1228), e - s, 12, color='#111111', lw=0, zorder=5))
for s, e in e_introns:
    ex.plot([s, e], [1234, 1234], color='#222222', lw=1.0, zorder=5)
ov.annotate('', xy=(1014, 1251), xytext=(1030, 1251), arrowprops=dict(arrowstyle='-|>', color='black', lw=1, shrinkA=0, shrinkB=0))
rule(1030, 1030, 1239, 1251, lw=1)
label(1034, 1254, 'Xist', ha='left', fontstyle='italic')
for y0, y1 in [(1258, 1317), (1337, 1396), (1414, 1473), (1495, 1554), (1572, 1631), (1651, 1710)]:
    rule(896, 896, y0, y1, lw=1.6)
rule(818, 818, 1258, 1477, lw=1.8)
rule(818, 818, 1487, 1714, lw=1.8)
for y, s in zip([1288, 1364, 1439, 1523, 1595, 1675], ['1-cell', '2-cell', 'Morula'] * 2):
    label(886, y, s, ha='right')
label(800, 1368, 'H3K27me3', rotation=90)
label(800, 1600, 'H2Aub', rotation=90)
ov.add_patch(plt.Rectangle((898, 1737), 27, 24, color=ORANGE, alpha=0.4, lw=0))
ov.add_patch(plt.Rectangle((898, 1774), 27, 24, color=GREY, alpha=0.4, lw=0))
label(936, 1748, 'H2Aub (transient loss and maternal-specific gain)', ha='left')
label(935, 1786, 'H2Aub (transient loss and biallelic gain)', ha='left')

fig.savefig('out.png', dpi=100)
